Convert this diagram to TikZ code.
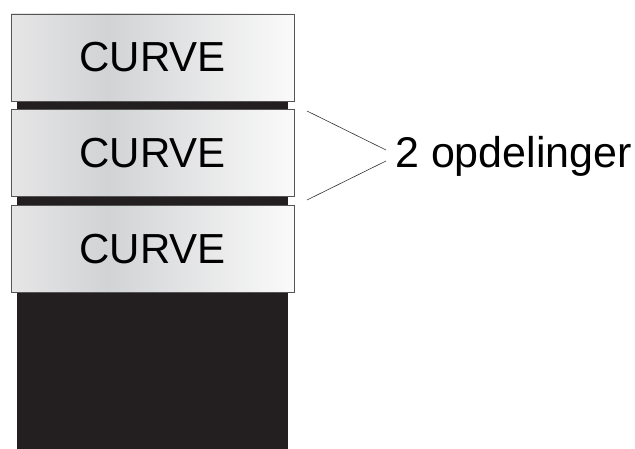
\documentclass[tikz,border=0pt]{standalone}
\usepackage{fontspec}
\setmainfont{Liberation Sans}
\usetikzlibrary{positioning}

\definecolor{coreblack}{HTML}{231F20}
\definecolor{boxedge}{HTML}{555555}
\definecolor{shadeL}{HTML}{E6E6E7}
\definecolor{shadeM}{HTML}{D2D3D5}
\definecolor{shadeR}{HTML}{FAFAFA}
\pgfdeclarehorizontalshading{curveshade}{100bp}{color(0bp)=(shadeL); color(25bp)=(shadeL); color(42bp)=(shadeM); color(75bp)=(shadeR); color(100bp)=(shadeR)}

\tikzset{
    curvebox/.style={draw=boxedge, line width=0.8pt, shading=curveshade,
        minimum width=283pt, minimum height=87pt, inner sep=0pt,
        font=\fontsize{42}{42}\selectfont},
}

\begin{document}
\begin{tikzpicture}[x=1pt, y=1pt, node distance=8pt]
            \useasboundingbox (0, 0) rectangle (635, 449);

            % black core behind the layers
            \fill[coreblack] (17, 0) rectangle (288, 348);

            \node[curvebox] (curve1) at (152.5, 391.5) {CURVE};
            \node[curvebox, below=of curve1] (curve2) {CURVE};
            \node[curvebox, below=of curve2] (curve3) {CURVE};

            \node[anchor=base west, inner sep=0pt, font=\fontsize{43}{43}\selectfont] (split) at (395, 281) {2 opdelinger};

            \coordinate (gaptop) at (307, 338);
            \coordinate (gapbot) at (307, 249);

            \draw[boxedge!60!black, line width=0.6pt] (gaptop) -- ([shift={(-9, 18)}]split.base west);
            \draw[boxedge!60!black, line width=0.6pt] (gapbot) -- ([shift={(-9, 7)}]split.base west);
        \end{tikzpicture}
\end{document}
